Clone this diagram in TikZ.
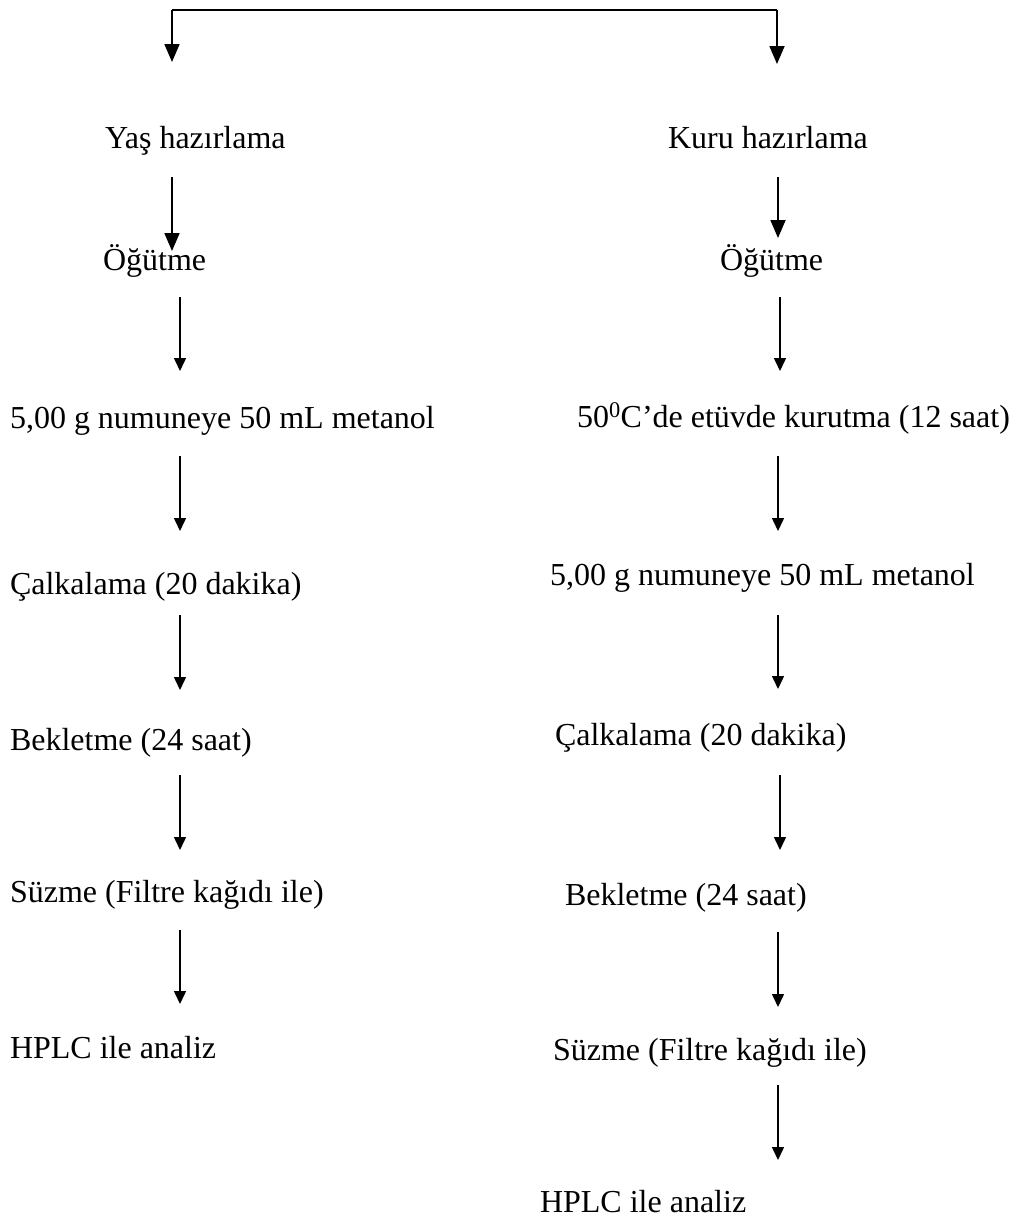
\documentclass[tikz,border=0pt]{standalone}
\usepackage{fontspec}
\setmainfont{Liberation Serif}
\usetikzlibrary{arrows.meta}
\begin{document}
\begin{tikzpicture}[x=1pt,y=-1pt,
  lbl/.style={anchor=base west,inner sep=0pt,outer sep=0pt,font=\fontsize{32}{38}\selectfont},
  arrsmall/.style={line width=1.5pt,-{Triangle[width=12pt,length=13pt]}},
  arrbig/.style={line width=1.8pt,-{Triangle[width=15pt,length=18pt]}}]
\useasboundingbox (0,0) rectangle (1013,1219);
% left column
\node[lbl] (yas)   at (105,148)  {Yaş hazırlama};
\node[lbl] (ogL)   at (103,270)  {Öğütme};
\node[lbl] (numL)  at (10,428)   {5,00 g numuneye 50 mL metanol};
\node[lbl] (calL)  at (10,594)   {Çalkalama (20 dakika)};
\node[lbl] (bekL)  at (10,750)   {Bekletme (24 saat)};
\node[lbl] (suzL)  at (10,902)   {Süzme (Filtre kağıdı ile)};
\node[lbl] (hpL)   at (10,1058)  {HPLC ile analiz};
% right column
\node[lbl] (kuru)  at (668,148)  {Kuru hazırlama};
\node[lbl] (ogR)   at (720,270)  {Öğütme};
\node[lbl] (etuv)  at (577,427)  {50\textsuperscript{0}C’de etüvde kurutma (12 saat)};
\node[lbl] (numR)  at (550,585)  {5,00 g numuneye 50 mL metanol};
\node[lbl] (calR)  at (555,745)  {Çalkalama (20 dakika)};
\node[lbl] (bekR)  at (565,905)  {Bekletme (24 saat)};
\node[lbl] (suzR)  at (553,1060) {Süzme (Filtre kağıdı ile)};
\node[lbl] (hpR)   at (540,1212) {HPLC ile analiz};
% top split
\coordinate (tL) at (172,10);
\coordinate (tR) at (777,10);
\coordinate (tLe) at (172,62);
\coordinate (tRe) at (777,64);
\draw[line width=1.8pt] (tL) -- (tR);
\draw[arrbig] (tL) -- (tLe);
\draw[arrbig] (tR) -- (tRe);
% left arrows
\coordinate (l1s) at (172,177); \coordinate (l1e) at (172,251);
\coordinate (l2s) at (180,297); \coordinate (l2e) at (180,371);
\coordinate (l3s) at (180,456); \coordinate (l3e) at (180,531);
\coordinate (l4s) at (180,615); \coordinate (l4e) at (180,690);
\coordinate (l5s) at (180,775); \coordinate (l5e) at (180,850);
\coordinate (l6s) at (180,930); \coordinate (l6e) at (180,1004);
\draw[arrbig] (l1s) -- (l1e);
\draw[arrsmall] (l2s) -- (l2e);
\draw[arrsmall] (l3s) -- (l3e);
\draw[arrsmall] (l4s) -- (l4e);
\draw[arrsmall] (l5s) -- (l5e);
\draw[arrsmall] (l6s) -- (l6e);
% right arrows
\coordinate (r1s) at (778,177); \coordinate (r1e) at (778,238);
\coordinate (r2s) at (780,297); \coordinate (r2e) at (780,371);
\coordinate (r3s) at (778,456); \coordinate (r3e) at (778,531);
\coordinate (r4s) at (778,615); \coordinate (r4e) at (778,689);
\coordinate (r5s) at (780,775); \coordinate (r5e) at (780,850);
\coordinate (r6s) at (778,932); \coordinate (r6e) at (778,1007);
\coordinate (r7s) at (778,1085); \coordinate (r7e) at (778,1160);
\draw[arrbig] (r1s) -- (r1e);
\draw[arrsmall] (r2s) -- (r2e);
\draw[arrsmall] (r3s) -- (r3e);
\draw[arrsmall] (r4s) -- (r4e);
\draw[arrsmall] (r5s) -- (r5e);
\draw[arrsmall] (r6s) -- (r6e);
\draw[arrsmall] (r7s) -- (r7e);
\end{tikzpicture}
\end{document}
